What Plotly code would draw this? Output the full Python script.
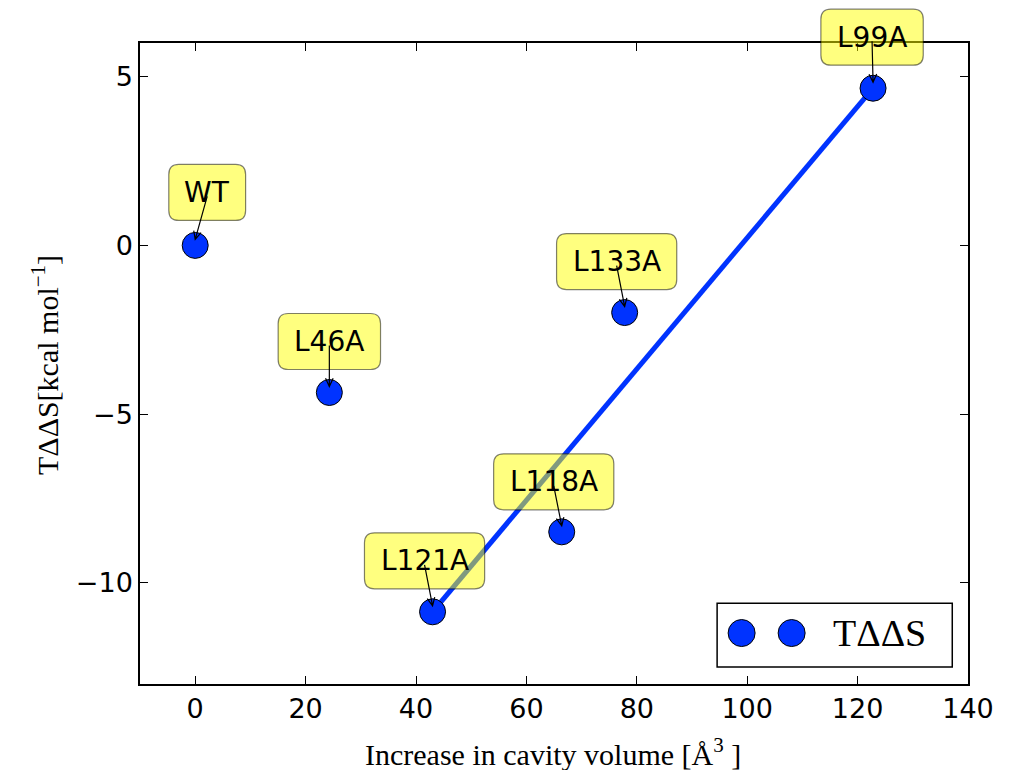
import math
import plotly.graph_objects as go

# Mutant data: cavity volume increase vs. T*ddS
mutants = ["WT", "L46A", "L121A", "L118A", "L133A", "L99A"]
cavity_volume = [0.0, 24.3, 43.0, 66.4, 77.8, 122.8]
t_dds = [0.0, -4.36, -10.86, -8.49, -1.99, 4.66]

# mutants joined by the trend segment
trend_ends = ["L121A", "L99A"]

x_ticks = [0, 20, 40, 60, 80, 100, 120, 140]
y_ticks = [-10, -5, 0, 5]
x_range = [-10, 140]
y_range = [-13, 6]

# label placement, pixels from the point (x right, y up)
label_offsets = {
    "WT": (12, 53),
    "L46A": (0, 51),
    "L121A": (-8, 51),
    "L118A": (-8, 50),
    "L133A": (-8, 51),
    "L99A": (-1, 51),
}

BLUE = "#0033ff"
LABEL_FONT = 28
# DejaVu Sans advance widths (em) for sizing the label boxes
ADV = {"L": 0.557, "W": 0.989, "T": 0.611, "A": 0.684}
for d in "0123456789":
    ADV[d] = 0.636

fig = go.Figure()

i0, i1 = mutants.index(trend_ends[0]), mutants.index(trend_ends[1])
fig.add_trace(go.Scatter(
    x=[cavity_volume[i0], cavity_volume[i1]],
    y=[t_dds[i0], t_dds[i1]],
    mode="lines", line=dict(color=BLUE, width=5),
    showlegend=False, hoverinfo="skip",
))
fig.add_trace(go.Scatter(
    x=cavity_volume, y=t_dds, mode="markers", name="TΔΔS",
    marker=dict(size=26, color=BLUE, line=dict(color="black", width=1)),
    showlegend=False,
))


def rounded_rect(cx, cy, w, h, r):
    x0, x1 = cx - w / 2, cx + w / 2
    y0, y1 = cy - h / 2, cy + h / 2
    return (f"M {x0 + r},{y0} L {x1 - r},{y0} Q {x1},{y0} {x1},{y0 + r} "
            f"L {x1},{y1 - r} Q {x1},{y1} {x1 - r},{y1} L {x0 + r},{y1} "
            f"Q {x0},{y1} {x0},{y1 - r} L {x0},{y0 + r} Q {x0},{y0} {x0 + r},{y0} Z")


def open_arrow(tx, ty, hx, hy, head_len=9, half_angle=25):
    # shaft from (tx, ty) to (hx, hy) with an open "->" head
    ang = math.atan2(hy - ty, hx - tx)
    pts = []
    for s in (1, -1):
        a = ang + math.pi + s * math.radians(half_angle)
        pts.append((hx + head_len * math.cos(a), hy + head_len * math.sin(a)))
    (ax1, ay1), (ax2, ay2) = pts
    return (f"M {tx},{ty} L {hx},{hy} M {ax1:.2f},{ay1:.2f} L {hx},{hy} "
            f"L {ax2:.2f},{ay2:.2f}")


shapes = []
annotations = []
for name, xv, yv in zip(mutants, cavity_volume, t_dds):
    dx, dy = label_offsets[name]
    w = sum(ADV[c] for c in name) * LABEL_FONT + 32
    h = 56
    y_frac = (yv - y_range[0]) / (y_range[1] - y_range[0])
    anchor = dict(xref="x", yref="paper", xsizemode="pixel", ysizemode="pixel",
                  xanchor=xv, yanchor=y_frac, layer="above")
    shapes.append(dict(
        type="path", path=rounded_rect(dx, dy, w, h, 10),
        fillcolor="rgba(255,255,0,0.5)",
        line=dict(color="rgba(0,0,0,0.5)", width=1.2),
        **anchor,
    ))
    shapes.append(dict(
        type="path", path=open_arrow(dx, dy - 4, 0, 6),
        line=dict(color="black", width=1.2),
        **anchor,
    ))
    annotations.append(dict(
        x=xv, y=yv, xref="x", yref="y", text=name, showarrow=False,
        xshift=dx, yshift=dy, xanchor="center", yanchor="middle",
        font=dict(family="DejaVu Sans", size=LABEL_FONT, color="black"),
    ))

# legend box drawn by hand (two sample markers + label)
shapes.append(dict(
    type="rect", xref="paper", yref="paper",
    x0=0.697, x1=0.981, y0=0.0265, y1=0.126,
    line=dict(color="black", width=1.5), fillcolor="white", layer="above",
))
for px in (0.7266, 0.7870):
    shapes.append(dict(
        type="circle", xref="paper", yref="paper",
        xsizemode="pixel", ysizemode="pixel",
        xanchor=px, yanchor=0.0795,
        x0=-13.5, x1=13.5, y0=-13.5, y1=13.5,
        fillcolor=BLUE, line=dict(color="black", width=1), layer="above",
    ))
annotations.append(dict(
    x=0.834, y=0.0795, xref="paper", yref="paper", text="TΔΔS",
    showarrow=False, xanchor="left", yanchor="middle",
    font=dict(family="Liberation Serif", size=38, color="black"),
))

# axis titles
annotations.append(dict(
    x=0.4988, y=0, xref="paper", yref="paper", yshift=-68,
    text="Increase in cavity volume [Å<sup>3</sup> ]",
    showarrow=False, xanchor="center", yanchor="middle",
    font=dict(family="Liberation Serif", size=30, color="black"),
))
annotations.append(dict(
    x=0, y=0.4977, xref="paper", yref="paper", xshift=-95,
    text="TΔΔS[kcal mol<sup>−1</sup>]", textangle=-90,
    showarrow=False, xanchor="center", yanchor="middle",
    font=dict(family="Liberation Serif", size=30, color="black"),
))

axis_common = dict(
    showline=True, linecolor="black", linewidth=1.5, mirror="ticks",
    ticks="inside", ticklen=8, tickwidth=1, tickcolor="black",
    showgrid=False, zeroline=False,
    tickfont=dict(family="DejaVu Sans", size=27, color="black"),
)

fig.update_layout(
    width=1025, height=770,
    margin=dict(l=140, r=57, t=43, b=86),
    paper_bgcolor="white", plot_bgcolor="white",
    xaxis=dict(range=x_range, tickvals=x_ticks, **axis_common),
    yaxis=dict(range=y_range, tickvals=y_ticks, **axis_common),
    shapes=shapes, annotations=annotations,
    showlegend=False,
)

fig.write_html("out.html")
